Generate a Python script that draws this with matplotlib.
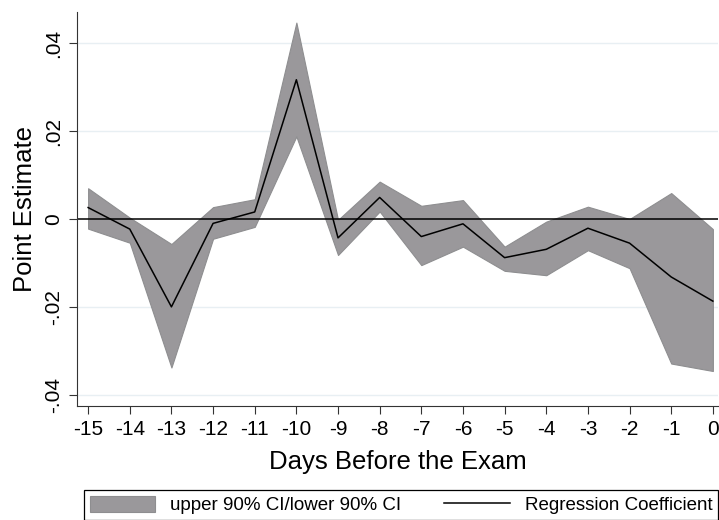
import numpy as np
import matplotlib.pyplot as plt
from matplotlib.ticker import FuncFormatter

# ─── Data ────────────────────────────────────────────────
days  = [-15, -14, -13, -12, -11, -10, -9, -8, -7, -6, -5, -4, -3, -2, -1, 0]
coef  = [0.0026, -0.0023, -0.0200, -0.0010, 0.0016, 0.0317, -0.0043, 0.0049,
         -0.0040, -0.0011, -0.0088, -0.0069, -0.0021, -0.0055, -0.0132, -0.0187]
upper = [0.0070, 0.0003, -0.0057, 0.0027, 0.0045, 0.0447, -0.0002, 0.0085,
         0.0030, 0.0043, -0.0063, -0.0006, 0.0028, 0.0000, 0.0059, -0.0023]
lower = [-0.0022, -0.0054, -0.0338, -0.0045, -0.0018, 0.0188, -0.0082, 0.0017,
         -0.0105, -0.0063, -0.0118, -0.0128, -0.0071, -0.0112, -0.0329, -0.0346]
yticks = [-0.04, -0.02, 0, 0.02, 0.04]

plt.rcParams['font.family'] = ['Liberation Sans', 'DejaVu Sans']

fig = plt.figure(figsize=(7.19, 5.2), dpi=100)
ax = fig.add_axes([0.1075, 0.2198, 0.8915, 0.757])

for yv in yticks:
    if yv != 0:
        ax.axhline(yv, color='#e8eff3', lw=1.0, zorder=0)

band = ax.fill_between(days, lower, upper, facecolor='#9a989b', edgecolor='#8e8e90',
                       lw=0.8, zorder=1, label='upper 90% CI/lower 90% CI')
ax.axhline(0, color='black', lw=1.1, zorder=2)
line, = ax.plot(days, coef, color='black', lw=1.1, zorder=3,
                label='Regression Coefficient')

ax.set_xlim(-15.26, 0.13)
ax.set_ylim(-0.0425, 0.0471)
ax.set_xticks(days)
ax.set_xticklabels([str(d) for d in days])
ax.set_yticks(yticks)
ax.yaxis.set_major_formatter(FuncFormatter(
    lambda v, p: '0' if abs(v) < 1e-9 else ('%.2f' % v).replace('0.', '.')))
for lab in ax.get_yticklabels():
    lab.set_rotation(90)
    lab.set_va('center')

ax.tick_params(axis='both', labelsize=15, direction='out', length=6,
               width=0.8, color='#333333', pad=4)
ax.spines['top'].set_visible(False)
ax.spines['right'].set_visible(False)
ax.spines['left'].set_color('#333333')
ax.spines['bottom'].set_color('#333333')

ax.set_xlabel('Days Before the Exam', fontsize=18.5, labelpad=8)
ax.set_ylabel('Point Estimate', fontsize=18.5, labelpad=5)

leg = fig.legend(handles=[band, line], loc='lower left', ncol=2, mode='expand',
                 bbox_to_anchor=(84/719, 0.0, 634/719, 32/520),
                 fontsize=13.5, frameon=True, fancybox=False, framealpha=1,
                 edgecolor='black', handlelength=3.5, handleheight=1.0,
                 borderpad=0.3, columnspacing=1.0, handletextpad=0.8,
                 borderaxespad=0.0)
leg.get_frame().set_linewidth(0.9)

fig.savefig('out.png', dpi=100)
